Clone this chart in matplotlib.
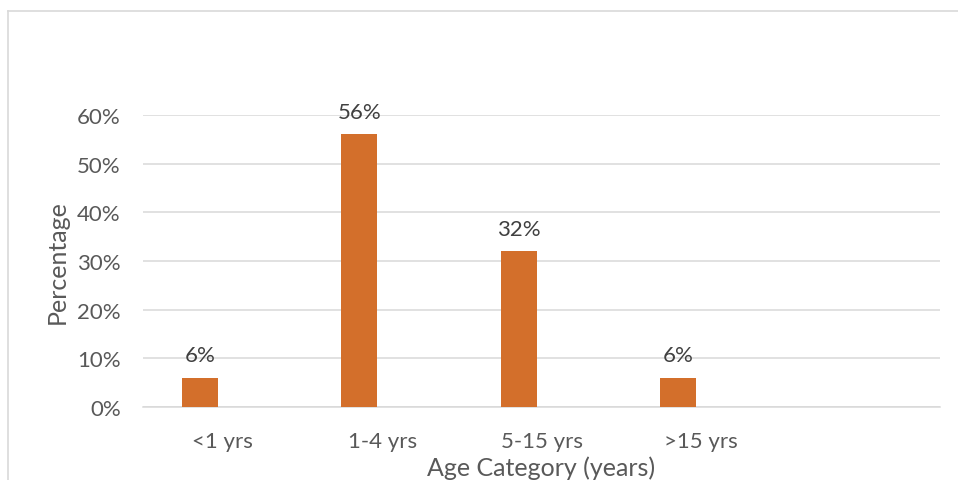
import matplotlib
matplotlib.use('Agg')
import matplotlib.pyplot as plt
from matplotlib.lines import Line2D
from matplotlib.ticker import FuncFormatter
import numpy as np

categories = ['<1 yrs', '1-4 yrs', '5-15 yrs', '>15 yrs', '']
shares = [6, 56, 32, 6]
yticks = [0, 10, 20, 30, 40, 50, 60]

plt.rcParams['font.family'] = ['Lato', 'DejaVu Sans']

bar_color = '#D36F2B'
grid_color = '#D9D9D9'
tick_color = '#595959'
label_color = '#404040'

fig = plt.figure(figsize=(9.58, 4.81), dpi=100)
ax = fig.add_axes([0.1493, 0.1518, 0.8319, 0.6070])

x = np.arange(len(categories))
bx = x[:len(shares)] - 0.142
bars = ax.bar(bx, shares, width=0.226, color=bar_color, zorder=3)

for xi, v in zip(bx, shares):
    ax.annotate(f'{v}%', (xi, v), xytext=(0, 12), textcoords='offset points',
                ha='center', va='baseline', fontsize=16, color=label_color)

ax.set_xlim(-0.5, len(categories) - 0.5)
ax.set_ylim(0, 60)
ax.set_xticks(x)
ax.set_xticklabels(categories)
ax.set_yticks(yticks)
ax.yaxis.set_major_formatter(FuncFormatter(lambda v, p: f'{v:.0f}%'))

ax.grid(axis='y', color=grid_color, linewidth=1.1, zorder=0)
ax.set_axisbelow(True)
for s in ['top', 'right', 'left']:
    ax.spines[s].set_visible(False)
ax.spines['bottom'].set_color(grid_color)
ax.spines['bottom'].set_linewidth(1.1)
ax.tick_params(axis='both', length=0, labelsize=16, labelcolor=tick_color)
ax.tick_params(axis='x', pad=17)
ax.tick_params(axis='y', pad=16)

ax.set_ylabel('Percentage', fontsize=18, color=tick_color)
ax.yaxis.set_label_coords(-0.093, 0.5)
ax.set_xlabel('Age Category (years)', fontsize=18, color=tick_color)
ax.xaxis.set_label_coords(0.5, -0.165)

# chart area border (top and left edges)
fig.add_artist(Line2D([8 / 958, 1.0], [1 - 12 / 481, 1 - 12 / 481],
                      transform=fig.transFigure, color=grid_color, lw=1.2))
fig.add_artist(Line2D([8 / 958, 8 / 958], [0.0, 1 - 12 / 481],
                      transform=fig.transFigure, color=grid_color, lw=1.2))

fig.savefig('out.png', dpi=100)
